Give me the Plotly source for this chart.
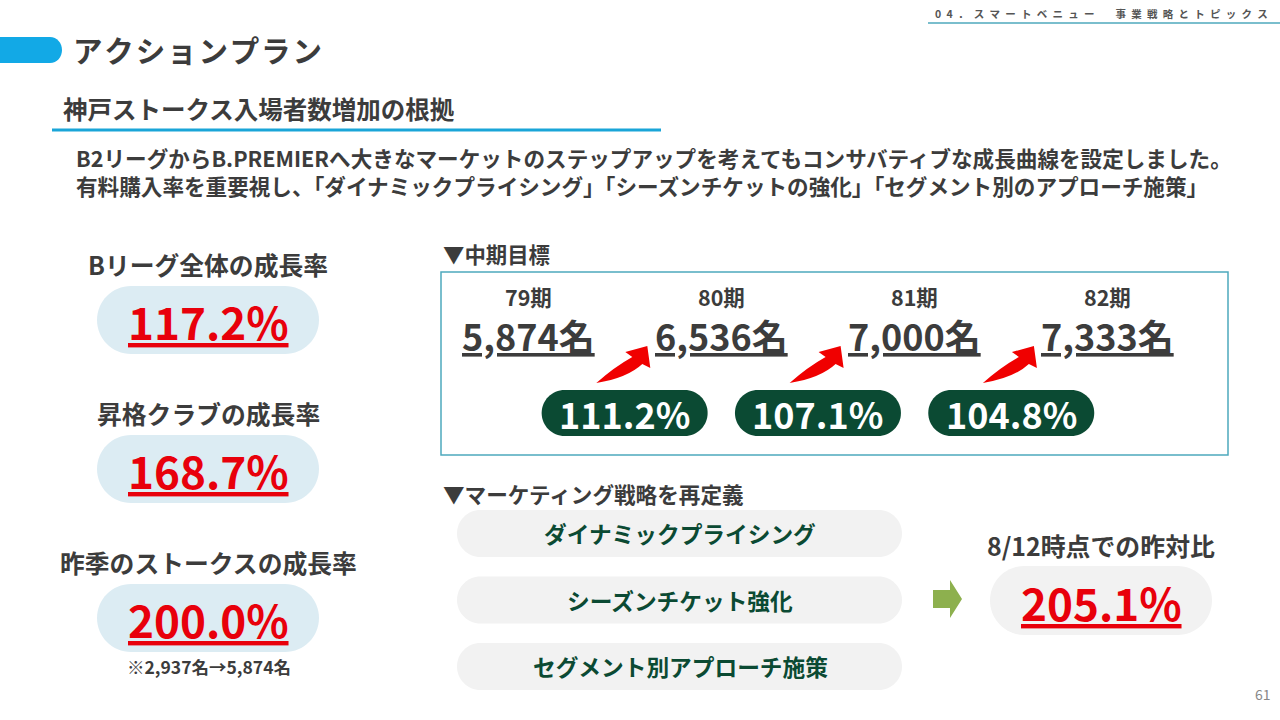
import plotly.graph_objects as go

# -------------------------------
# Slide data
# -------------------------------
header_text = "04．スマートベニュー　事業戦略とトピックス"
title_text = "アクションプラン"
subtitle_text = "神戸ストークス入場者数増加の根拠"
body_lines = [
    "B2リーグからB.PREMIERへ大きなマーケットのステップアップを考えてもコンサバティブな成長曲線を設定しました。",
    "有料購入率を重要視し、「ダイナミックプライシング」「シーズンチケットの強化」「セグメント別のアプローチ施策」",
]

growth_labels = ["Bリーグ全体の成長率", "昇格クラブの成長率", "昨季のストークスの成長率"]
growth_rates = [117.2, 168.7, 200.0]
growth_note = "※2,937名→5,874名"

target_title = "▼中期目標"
periods = ["79期", "80期", "81期", "82期"]
attendance = [5874, 6536, 7000, 7333]
period_growth = [111.2, 107.1, 104.8]

strategy_title = "▼マーケティング戦略を再定義"
strategies = ["ダイナミックプライシング", "シーズンチケット強化", "セグメント別アプローチ施策"]
yoy_label = "8/12時点での昨対比"
yoy_rate = 205.1
page_no = "61"

# -------------------------------
# Style
# -------------------------------
FONT = "Noto Sans CJK JP"
DARK = "#3c3c3c"
RED = "#e8000b"
GREEN = "#0b4a33"
BLUE = "#12a9e6"
TEAL = "#4ea9bd"
PALE_BLUE = "#dcecf3"
PALE_GRAY = "#f2f2f2"


def pill(x0, y0, x1, y1, color):
    """Rounded (stadium) shape as an SVG path in data coordinates."""
    r = (y1 - y0) / 2
    k = 0.5523 * r
    path = (f"M {x0 + r},{y0} L {x1 - r},{y0} "
            f"C {x1 - r + k},{y0} {x1},{y0 + r - k} {x1},{y0 + r} "
            f"C {x1},{y0 + r + k} {x1 - r + k},{y1} {x1 - r},{y1} "
            f"L {x0 + r},{y1} "
            f"C {x0 + r - k},{y1} {x0},{y0 + r + k} {x0},{y0 + r} "
            f"C {x0},{y0 + r - k} {x0 + r - k},{y0} {x0 + r},{y0} Z")
    return dict(type="path", path=path, fillcolor=color, line_width=0,
                xref="x", yref="y", layer="below")


def text(x, y, s, size, color=DARK, anchor="center", bold=True):
    return dict(x=x, y=y, xref="x", yref="y", text=f"<b>{s}</b>" if bold else s,
                showarrow=False, xanchor=anchor, yanchor="middle",
                font=dict(family=FONT, size=size, color=color))


shapes, annotations = [], []

# -------------------------------
# Header
# -------------------------------
annotations.append(text(1270, 13, "\u2002".join(header_text), 10.5, color="#555555", anchor="right"))
shapes.append(dict(type="line", x0=928, x1=1280, y0=23, y1=23, xref="x", yref="y",
                   line=dict(color=TEAL, width=1.5)))

# title bar (rounded right end)
shapes.append(dict(type="path", xref="x", yref="y", fillcolor=BLUE, line_width=0,
                   path="M -5,37 L 50,37 C 57,37 62,43 62,50 C 62,57 57,63 50,63 L -5,63 Z"))
annotations.append(text(71, 49, "\u200a".join(title_text), 29.5, anchor="left"))

annotations.append(text(61, 108, subtitle_text, 24.5, anchor="left"))
shapes.append(dict(type="line", x0=52, x1=661, y0=130, y1=130, xref="x", yref="y",
                   line=dict(color="#1aa5d8", width=3)))

body = dict(text(74, 171, "<br>".join(body_lines), 21.6, anchor="left"), align="left")
annotations.append(body)

# -------------------------------
# Left column: growth rates
# -------------------------------
for i, (lab, rate) in enumerate(zip(growth_labels, growth_rates)):
    top = 286 + i * 149
    annotations.append(text(208, top - 22, lab, 24.8))
    shapes.append(pill(97, top, 319, top + 68, PALE_BLUE))
    annotations.append(text(208, top + 35, f"<u>{rate:.1f}%</u>", 44, color=RED))
annotations.append(text(209, 666, growth_note, 17.5))

# -------------------------------
# Mid-term targets
# -------------------------------
annotations.append(text(441, 253, target_title, 21.4, anchor="left"))
shapes.append(dict(type="rect", x0=441, x1=1228, y0=272, y1=455, xref="x", yref="y",
                   line=dict(color=TEAL, width=1.5), fillcolor="rgba(0,0,0,0)"))

col_x = [528 + i * 193.3 for i in range(len(periods))]
for cx, per, val in zip(col_x, periods, attendance):
    annotations.append(text(cx, 296, per, 21.5))
    annotations.append(text(cx, 335, f"<u>{val:,}名</u>", 36))

for i, g in enumerate(period_growth):
    mid = (col_x[i] + col_x[i + 1]) / 2
    shapes.append(pill(mid - 83, 390, mid + 83, 436, GREEN))
    annotations.append(text(mid, 413, f"{g:.1f}%", 36, color="white"))
    # curved red arrow pointing at the next value
    tx, ty = col_x[i + 1] - 74, 346
    arrow = (f"M {tx - 51},{ty + 37} "
             f"Q {tx - 33},{ty + 21} {tx - 15},{ty + 11} "
             f"L {tx - 22},{ty + 6} L {tx},{ty} L {tx + 3},{ty + 22} L {tx - 5},{ty + 18} "
             f"Q {tx - 20},{ty + 32} {tx - 51},{ty + 37} Z")
    shapes.append(dict(type="path", path=arrow, fillcolor="#f00000", line_width=0,
                       xref="x", yref="y"))

# -------------------------------
# Marketing strategy
# -------------------------------
annotations.append(text(441, 493, strategy_title, 21.6, anchor="left"))
for i, s in enumerate(strategies):
    top = 510 + i * 66.5
    shapes.append(pill(457, top, 902, top + 47, PALE_GRAY))
    annotations.append(text(680, top + 23.5, s, 22.7, color=GREEN))

# green block arrow
shapes.append(dict(type="path", xref="x", yref="y", fillcolor="#8db04e", line_width=0,
                   path="M 933,590 L 950,590 L 950,580 L 962,599 L 950,618 L 950,608 L 933,608 Z"))

annotations.append(text(1101, 545, yoy_label, 24.9))
shapes.append(pill(990, 566, 1212, 635, PALE_GRAY))
annotations.append(text(1101, 602, f"<u>{yoy_rate:.1f}%</u>", 44, color=RED))

annotations.append(text(1263, 694, page_no, 14, color="#888888", bold=False))

# -------------------------------
# Figure
# -------------------------------
fig = go.Figure()
fig.update_layout(
    width=1280, height=720,
    margin=dict(l=0, r=0, t=0, b=0),
    paper_bgcolor="white", plot_bgcolor="white",
    xaxis=dict(range=[0, 1280], visible=False, fixedrange=True),
    yaxis=dict(range=[720, 0], visible=False, fixedrange=True),
    shapes=shapes, annotations=annotations,
    showlegend=False,
)

# the page body has a default 8px margin; drop it so the slide sits at the corner
fig.write_html(
    "out.html",
    config={"displayModeBar": False},
    post_script="document.body.style.margin='0px';document.body.style.overflow='hidden';",
)
